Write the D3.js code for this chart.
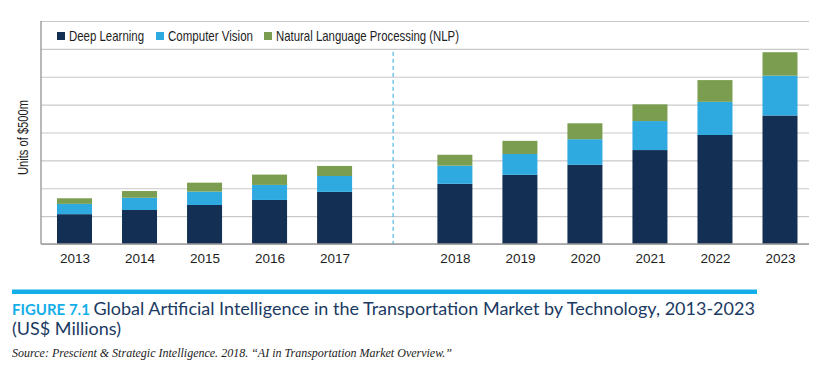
<!DOCTYPE html>
<html>
<head>
<meta charset="utf-8">
<script src="https://cdn.jsdelivr.net/npm/d3@7"></script>
<style>
  body { margin: 0; background: #fff; }
  svg { display: block; }
</style>
</head>
<body>
<div id="chart"></div>
<script>
const years = ['2013', '2014', '2015', '2016', '2017', '2018', '2019', '2020', '2021', '2022', '2023'];
// units of $500m
const deepLearning = [1.07, 1.22, 1.40, 1.58, 1.87, 2.16, 2.48, 2.84, 3.37, 3.91, 4.61];
const computerVision = [0.37, 0.44, 0.48, 0.54, 0.57, 0.65, 0.75, 0.92, 1.04, 1.19, 1.43];
const nlp = [0.20, 0.24, 0.32, 0.37, 0.36, 0.39, 0.47, 0.57, 0.60, 0.78, 0.84];
const seriesNames = ['Deep Learning', 'Computer Vision', 'Natural Language Processing (NLP)'];
const yTicks = [0, 1, 2, 3, 4, 5, 6, 7, 8];

const colors = ['#132f54', '#2eaae1', '#7b9d4f'];

const W = 826, H = 366;
const margin = { left: 41, right: 17, top: 21, bottom: 122 };
const plotW = W - margin.left - margin.right;
const plotH = H - margin.top - margin.bottom;

// condensed face is not installed, so squeeze a regular one to the widths seen
const condFont = '"Liberation Sans", Arial, sans-serif';

const svg = d3.select('#chart').append('svg')
  .attr('width', W)
  .attr('height', H);

const g = svg.append('g')
  .attr('transform', `translate(${margin.left},${margin.top})`);

// forecast years sit after a gap
const gapSlots = 0.85;
const slot = i => i + (i >= 5 ? gapSlots : 0);
const x = d3.scaleLinear()
  .domain([0, slot(years.length - 1)])
  .range([74.5 - margin.left, 780 - margin.left]);
const barW = 35;

const y = d3.scaleLinear()
  .domain([0, 8])
  .range([plotH, 0]);

// gridlines
g.append('g')
  .call(d3.axisLeft(y).tickValues(yTicks).tickSize(-plotW).tickFormat(''))
  .call(a => a.select('.domain').remove())
  .selectAll('line')
  .attr('stroke', '#c9c9c9')
  .attr('stroke-width', 1.2);

// stacked data
const table = years.map((yr, i) => ({
  year: yr, i: i,
  'Deep Learning': deepLearning[i],
  'Computer Vision': computerVision[i],
  'Natural Language Processing (NLP)': nlp[i]
}));
const stacked = d3.stack().keys(seriesNames)(table);

g.selectAll('.layer')
  .data(stacked)
  .enter().append('g')
  .attr('class', 'layer')
  .attr('fill', (d, k) => colors[k])
  .selectAll('rect')
  .data(d => d)
  .enter().append('rect')
  .attr('x', d => x(slot(d.data.i)) - barW / 2)
  .attr('width', barW)
  .attr('y', d => y(d[1]))
  .attr('height', d => y(d[0]) - y(d[1]));

// divider between actual and forecast
const divX = x(4.9);
g.append('line')
  .attr('x1', divX).attr('x2', divX)
  .attr('y1', y(7) + 3).attr('y2', plotH)
  .attr('stroke', '#2eaae1')
  .attr('stroke-width', 1)
  .attr('stroke-dasharray', '4,3');

// axes lines
g.append('line')
  .attr('x1', 0).attr('x2', plotW)
  .attr('y1', plotH).attr('y2', plotH)
  .attr('stroke', '#9a9a9a').attr('stroke-width', 1.6);
g.append('line')
  .attr('x1', 0).attr('x2', 0)
  .attr('y1', 0).attr('y2', plotH)
  .attr('stroke', '#9a9a9a').attr('stroke-width', 1.4);

// year labels
g.append('g')
  .attr('transform', `translate(0,${plotH})`)
  .call(d3.axisBottom(x)
    .tickValues(years.map((d, i) => slot(i)))
    .tickFormat((d, i) => years[i])
    .tickSize(0)
    .tickPadding(9))
  .call(a => a.select('.domain').remove())
  .selectAll('text')
  .style('font-family', '"Liberation Sans", Arial, sans-serif')
  .style('font-size', '13.5px')
  .style('fill', '#1e1e1e');

// y label
svg.append('text')
  .attr('transform', 'translate(28,137.5) rotate(-90)')
  .attr('text-anchor', 'middle')
  .attr('textLength', 75)
  .attr('lengthAdjust', 'spacingAndGlyphs')
  .style('font-family', condFont)
  .style('font-size', '14.5px')
  .style('fill', '#1e1e1e')
  .text('Units of $500m');

// legend
const legendX = [57, 156, 264];
const legendLen = [75, 85, 183];
const legend = svg.append('g');
seriesNames.forEach((name, k) => {
  legend.append('rect')
    .attr('x', legendX[k]).attr('y', 32)
    .attr('width', 8).attr('height', 8)
    .attr('fill', colors[k]);
  legend.append('text')
    .attr('x', legendX[k] + 12).attr('y', 41)
    .attr('textLength', legendLen[k])
    .attr('lengthAdjust', 'spacingAndGlyphs')
    .style('font-family', condFont)
    .style('font-size', '14.5px')
    .style('fill', '#1e1e1e')
    .text(name);
});

// caption
svg.append('rect')
  .attr('x', 12).attr('y', 289.5)
  .attr('width', 745).attr('height', 4.5)
  .attr('fill', '#14aee9');

const title = svg.append('text')
  .attr('x', 12).attr('y', 315)
  .style('font-family', 'Lato, "Open Sans", sans-serif')
  .style('font-size', '18px')
  .style('fill', '#1b3a62');
title.append('tspan')
  .style('font-weight', 700)
  .style('fill', '#14aee9')
  .style('font-size', '15px')
  .text('FIGURE 7.1 ');
title.append('tspan')
  .text('Global Artificial Intelligence in the Transportation Market by Technology, 2013-2023');

svg.append('text')
  .attr('x', 12).attr('y', 335)
  .style('font-family', 'Lato, "Open Sans", sans-serif')
  .style('font-size', '18px')
  .style('fill', '#1b3a62')
  .text('(US$ Millions)');

svg.append('text')
  .attr('x', 12).attr('y', 357)
  .attr('textLength', 440)
  .attr('lengthAdjust', 'spacingAndGlyphs')
  .style('font-family', '"Liberation Serif", "DejaVu Serif", serif')
  .style('font-style', 'italic')
  .style('font-size', '12.5px')
  .style('fill', '#222')
  .text('Source: Prescient & Strategic Intelligence. 2018. \u201CAI in Transportation Market Overview.\u201D');
</script>
</body>
</html>
